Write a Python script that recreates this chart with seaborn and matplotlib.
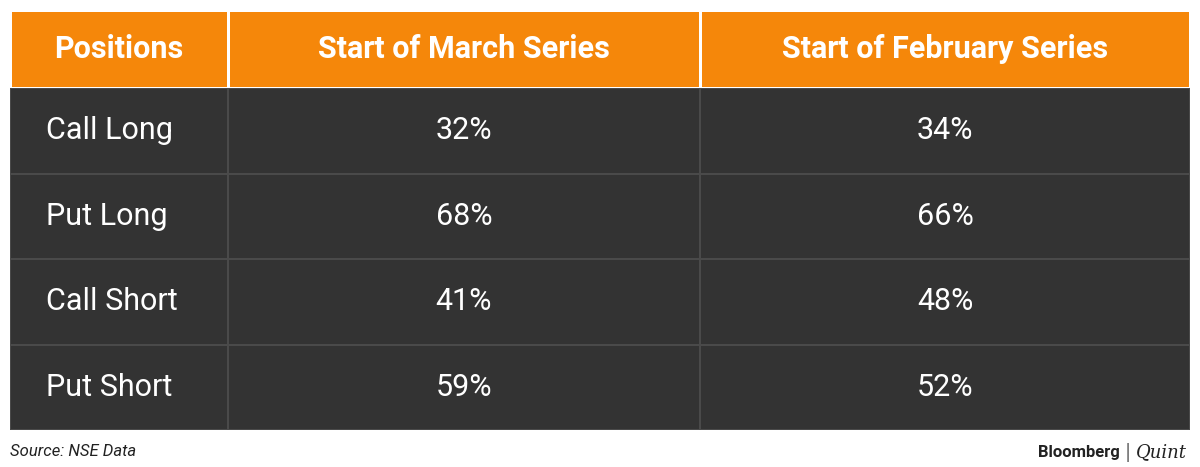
import matplotlib
matplotlib.use("Agg")
import matplotlib.pyplot as plt
import seaborn as sns
import numpy as np
from matplotlib.colors import ListedColormap

headers = ["Positions", "Start of March Series", "Start of February Series"]
positions = ["Call Long", "Put Long", "Call Short", "Put Short"]
march = ["32%", "68%", "41%", "59%"]
february = ["34%", "66%", "48%", "52%"]

W, H = 1200, 467
fig = plt.figure(figsize=(12, 4.67), dpi=100)
fig.patch.set_facecolor("white")

cols = [(10, 228), (228, 700), (700, 1190)]
body_top, body_bot, head_top = 88, 430, 10
orange = "#F5870A"
dark = "#333333"
columns = [positions, march, february]

for ci, (x0, x1) in enumerate(cols):
    # header
    hax = fig.add_axes([x0 / W, 1 - body_top / H, (x1 - x0) / W, (body_top - head_top) / H])
    sns.heatmap(np.zeros((1, 1)), ax=hax, cmap=ListedColormap([orange]), cbar=False,
                linewidths=1, linecolor="white", xticklabels=False, yticklabels=False)
    hax.text(0.5, 0.5, headers[ci], ha="center", va="center", color="white",
             fontsize=22, fontweight="bold", family="Roboto")
    # body
    bax = fig.add_axes([x0 / W, 1 - body_bot / H, (x1 - x0) / W, (body_bot - body_top) / H])
    sns.heatmap(np.zeros((4, 1)), ax=bax, cmap=ListedColormap([dark]), cbar=False,
                linewidths=1.2, linecolor="#4a4a4a", xticklabels=False, yticklabels=False)
    for ri, val in enumerate(columns[ci]):
        if ci == 0:
            bax.text(36 / (x1 - x0), ri + 0.5, val, ha="left", va="center", color="white",
                     fontsize=22, family="Roboto")
        else:
            bax.text(0.5, ri + 0.5, val, ha="center", va="center", color="white",
                     fontsize=22, family="Roboto")

fig.text(10 / W, 1 - 452 / H, "Source: NSE Data", ha="left", va="center",
         fontsize=12, style="italic", color="#222222", family="Roboto")
fig.text(1120 / W, 1 - 452 / H, "Bloomberg", ha="right", va="center",
         fontsize=12, fontweight="bold", color="#222222", family="Roboto")
fig.text(1128 / W, 1 - 452 / H, "|", ha="center", va="center",
         fontsize=13, color="#555555", family="DejaVu Serif")
fig.text(1136 / W, 1 - 452 / H, "Quint", ha="left", va="center",
         fontsize=13, style="italic", color="#222222", family="DejaVu Serif")

fig.savefig("out.png", dpi=100, facecolor="white")
